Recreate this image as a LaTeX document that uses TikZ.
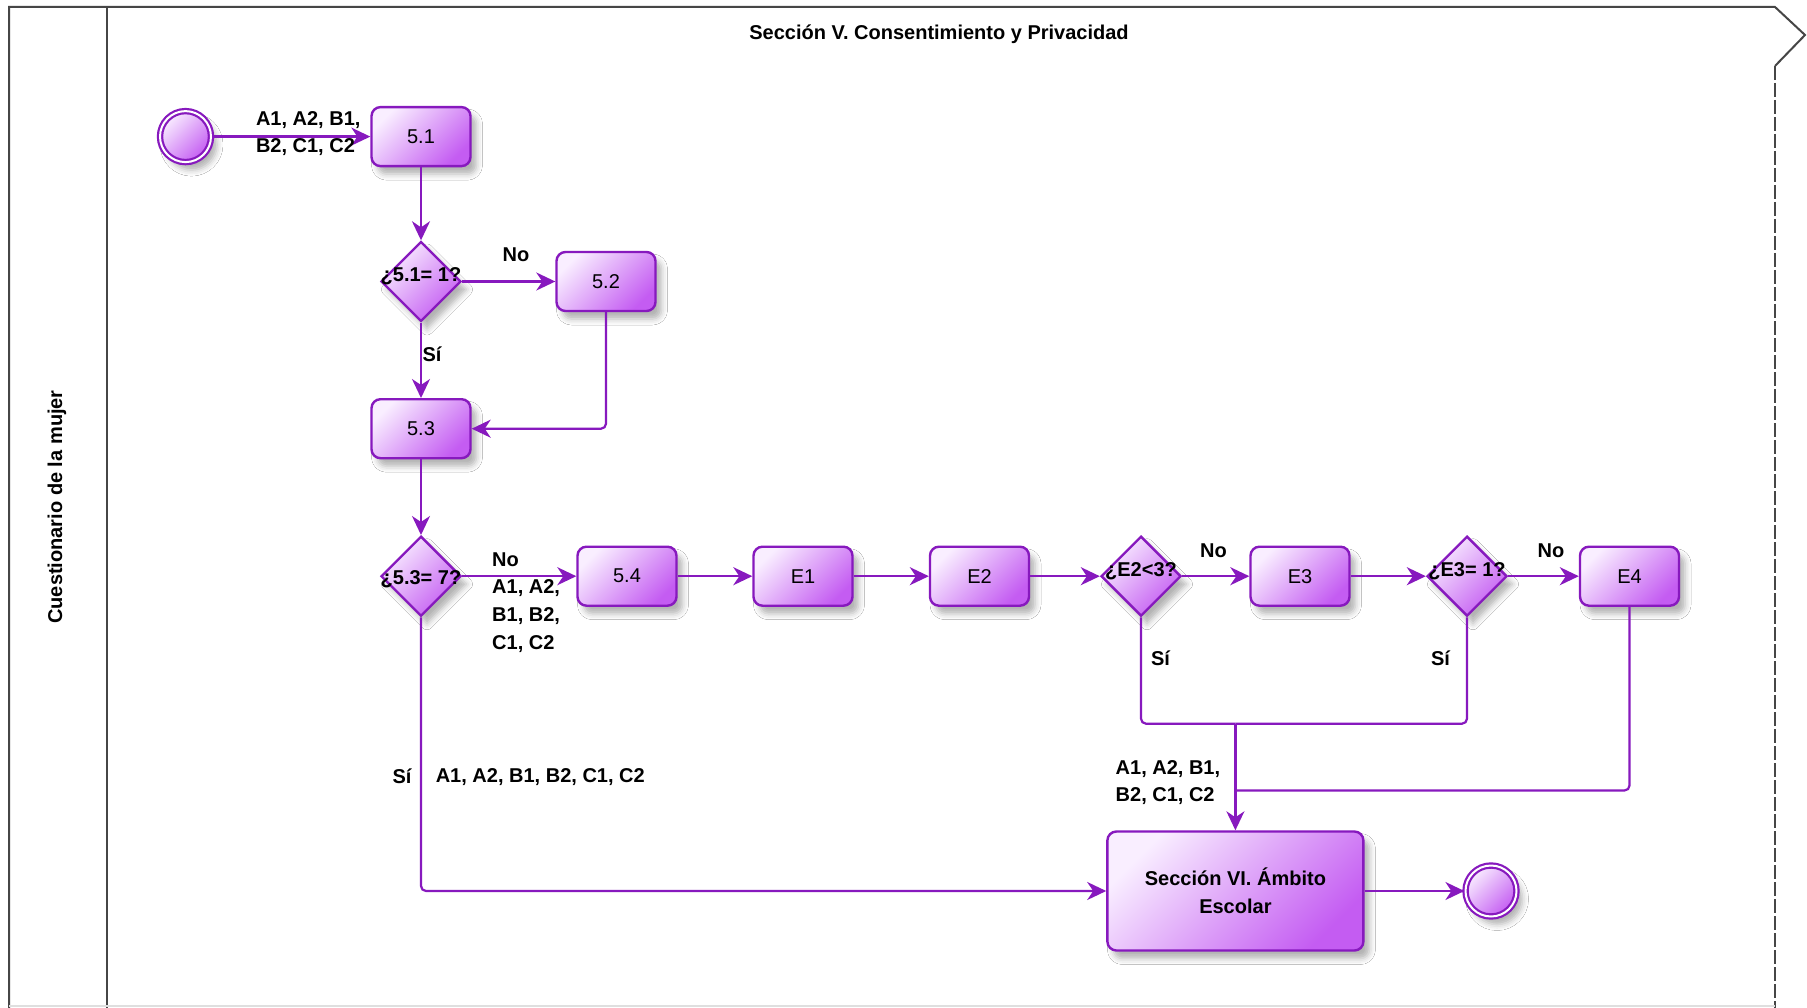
\documentclass[tikz,border=0pt]{standalone}
\usepackage{fontspec}
\setmainfont{Liberation Sans}
\usetikzlibrary{arrows.meta,shapes.geometric,shadows.blur,calc}
\definecolor{purp}{RGB}{135,25,190}
\definecolor{lavL}{RGB}{249,238,255}
\definecolor{lavD}{RGB}{196,92,242}
\definecolor{framec}{RGB}{70,70,70}
\begin{document}
\begin{tikzpicture}[x=1pt,y=-1pt,
  fillgrad/.style={top color=lavL, bottom color=lavD, shading angle=45},
  shadowst/.style={blur shadow={shadow xshift=6pt, shadow yshift=-8pt, shadow blur radius=6pt, shadow opacity=30}},
  box/.style={rectangle, rounded corners=9pt, draw=purp, line width=2.4pt, fillgrad, minimum width=99pt, minimum height=59pt, font=\fontsize{20}{24}\selectfont, shadowst},
  dia/.style={diamond, draw=purp, line width=2.4pt, fillgrad, minimum width=80pt, minimum height=80pt, inner sep=0pt, aspect=1, shadowst},
  evt/.style={circle, draw=purp, line width=2.2pt, double=white, double distance=2pt, fillgrad, minimum size=51pt, inner sep=0pt, shadowst},
  conn/.style={draw=purp, line width=2.2pt, -{Stealth[length=19pt,width=18pt,inset=6pt]}},
  plainc/.style={draw=purp, line width=2.2pt},
  lbl/.style={font=\bfseries\fontsize{20}{27.7}\selectfont, inner sep=0pt, align=left},
  dtxt/.style={font=\bfseries\fontsize{20}{24}\selectfont, inner sep=0pt}
]
\useasboundingbox (0,0) rectangle (1807,1008);
\fill[white] (0,0) rectangle (1807,1008);

% frame
\draw[framec, line width=2pt] (9,1008) -- (9,7) -- (1775,7) -- (1805,35) -- (1775,66);
\draw[framec, line width=2pt, dash pattern=on 14pt off 3pt] (1775,66) -- (1775,1008);
\draw[framec, line width=2pt] (107,7) -- (107,1008);
\draw[gray!25, line width=1.5pt] (9,1006) -- (1775,1006);

\node[font=\bfseries\fontsize{20}{24}\selectfont] (title) at (939,34) {Sección V. Consentimiento y Privacidad};
\node[font=\bfseries\fontsize{20}{24}\selectfont, rotate=90] (lane) at (57,507) {Cuestionario de la mujer};

% nodes
\node[evt] (start) at (185.5,136.6) {};
\node[box] (n51) at (421,136.6) {5.1};
\node[dia] (d1) at (421,281.5) {};
\node[dtxt] (d1t) at (421,276) {¿5.1= 1?};
\node[box] (n52) at (606,281.5) {5.2};
\node[box] (n53) at (421,428.7) {5.3};
\node[dia] (d2) at (421,576.2) {};
\node[dtxt] (d2t) at (421,579) {¿5.3= 7?};
\node[box] (n54) at (627,576.2) {5.4};
\node[box] (e1) at (803,576.2) {E1};
\node[box] (e2) at (979.5,576.2) {E2};
\node[dia] (d3) at (1141,576.2) {};
\node[dtxt] (d3t) at (1141,571) {¿E2<3?};
\node[box] (e3) at (1300,576.2) {E3};
\node[dia] (d4) at (1467,576.2) {};
\node[dtxt] (d4t) at (1467,571) {¿E3= 1?};
\node[box] (e4) at (1629.5,576.2) {E4};
\node[box, minimum width=256pt, minimum height=119pt, align=center, font=\bfseries\fontsize{20}{28}\selectfont] (sec) at (1235.4,891) {Sección VI. Ámbito\\Escolar};
\node[evt] (endn) at (1491,891) {};

\coordinate (m) at (1235.4,723.7);
\coordinate (m2) at (1235.4,790.5);

% connectors
\draw[conn] (start) -- (n51);
\draw[conn] (n51) -- (d1);
\draw[conn] (d1) -- (n52);
\draw[conn] (d1) -- (n53);
\draw[conn, rounded corners=5pt] (n52.south) |- (n53.east);
\draw[conn] (n53) -- (d2);
\draw[conn] (d2) -- (n54);
\draw[conn] (n54) -- (e1);
\draw[conn] (e1) -- (e2);
\draw[conn] (e2) -- (d3);
\draw[conn] (d3) -- (e3);
\draw[conn] (e3) -- (d4);
\draw[conn] (d4) -- (e4);
\draw[plainc, rounded corners=5pt] (d3.south) |- (m);
\draw[plainc, rounded corners=5pt] (d4.south) |- (m);
\draw[conn] (m) -- (sec.north);
\draw[plainc, rounded corners=5pt] (e4.south) |- (m2);
\draw[conn, rounded corners=5pt] (d2.south) |- (sec.west);
\draw[conn] (sec) -- (endn);

% labels
\node[lbl, anchor=west] (l0) at (255.8,133.6) {A1, A2, B1,\\B2, C1, C2};
\node[lbl] (l1) at (516,254.7) {No};
\node[lbl] (l2) at (432,353.8) {Sí};
\node[lbl, anchor=west] (l3) at (492,602.5) {No\\A1, A2,\\B1, B2,\\C1, C2};
\node[lbl] (l4) at (1213.5,550.9) {No};
\node[lbl] (l5) at (1551,550.9) {No};
\node[lbl] (l6) at (1160.5,658) {Sí};
\node[lbl] (l7) at (1440.5,658) {Sí};
\node[lbl, anchor=west] (l8) at (1115.5,782.5) {A1, A2, B1,\\B2, C1, C2};
\node[lbl] (l9) at (402,776.7) {Sí};
\node[lbl, anchor=west] (l10) at (435.6,776.7) {A1, A2, B1, B2, C1, C2};
\end{tikzpicture}
\end{document}
